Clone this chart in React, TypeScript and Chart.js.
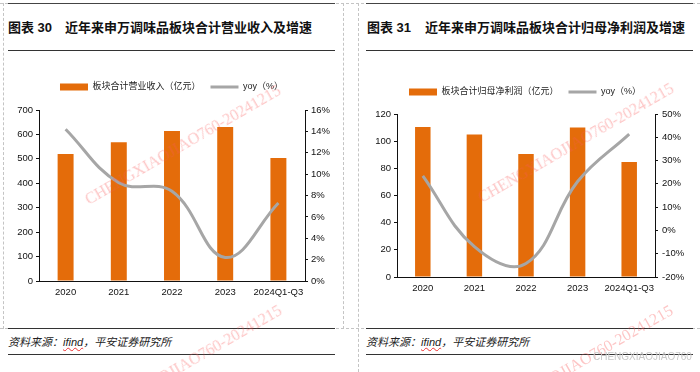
import React, { useEffect, useRef } from 'react';
import { Chart, registerables } from 'chart.js';

Chart.register(...registerables);

const FONT = '"Liberation Sans", "Noto Sans CJK SC", sans-serif';
const ORANGE = '#E46C0A';
const GRAY = '#A6A6A6';

// ---- data ----
const categories = ['2020', '2021', '2022', '2023', '2024Q1-Q3'];

const revenueLabel = '板块合计营业收入（亿元）';
const revenue = [520, 568, 614, 630, 503];
const revenueYoy = [14.2, 9.2, 8.4, 2.2, 7.3];

const profitLabel = '板块合计归母净利润（亿元）';
const profit = [110.4, 105.0, 90.5, 110.0, 84.7];
const profitYoy = [23.4, -7.0, -14.2, 21.0, 41.4];

const yoyLabel = 'yoy（%）';

const revLeftAxis = [0, 700, 100];
const revRightAxis = [0, 16, 2];
const profLeftAxis = [0, 120, 20];
const profRightAxis = [-20, 50, 10];

const title1 = ['图表 30', '近年来申万调味品板块合计营业收入及增速'];
const title2 = ['图表 31', '近年来申万调味品板块合计归母净利润及增速'];
const sourceText = ['资料来源：', 'ifind', '，平安证券研究所'];
const watermark = 'CHENGXIAOJIAO760-20241215';
const watermark2 = 'CHENGXIAOJIAO760';

type PanelProps = {
  barLabel: string;
  bars: number[];
  yoy: number[];
  leftAxis: number[];
  rightAxis: number[];
  left: number;
  width: number;
  padTop: number;
  extra: number;
  leftW: number;
  rightW: number;
  xH: number;
  rightPad: number;
};

function ChartPanel(p: PanelProps) {
  const ref = useRef<HTMLCanvasElement | null>(null);
  useEffect(() => {
    if (!ref.current) return;
    const spacer = {
      id: 'legendSpacer',
      beforeInit(chart: any) {
        const legend = chart.legend;
        if (!legend) return;
        const orig = legend.fit;
        legend.fit = function () {
          orig.call(this);
          this.height += p.extra;
        };
      },
    };
    const tickFont = { size: 9.5, family: FONT };
    const chart = new Chart(ref.current, {
      type: 'bar',
      data: {
        labels: categories,
        datasets: [
          {
            type: 'bar',
            label: p.barLabel,
            data: p.bars,
            backgroundColor: ORANGE,
            borderWidth: 0,
            barPercentage: 0.3,
            categoryPercentage: 1,
            yAxisID: 'y',
            pointStyle: 'rect',
            order: 2,
          } as any,
          {
            type: 'line',
            label: yoyLabel,
            data: p.yoy,
            borderColor: GRAY,
            backgroundColor: GRAY,
            borderWidth: 3,
            pointRadius: 0,
            tension: 0.4,
            yAxisID: 'y1',
            pointStyle: 'line',
            order: 1,
          } as any,
        ],
      },
      options: {
        responsive: false,
        animation: false,
        layout: { padding: { top: p.padTop, left: 0, right: 0, bottom: 0 } },
        plugins: {
          legend: {
            position: 'top',
            labels: {
              usePointStyle: true,
              pointStyleWidth: 28,
              boxHeight: 7,
              padding: 10,
              color: '#222',
              font: { size: 9, family: FONT },
              sort: (a: any, b: any) => a.datasetIndex - b.datasetIndex,
            },
          },
          tooltip: { enabled: false },
        },
        scales: {
          x: {
            grid: { display: true, drawOnChartArea: false, drawTicks: false },
            border: { color: '#111', width: 1 },
            ticks: { padding: 6, color: '#111', font: tickFont, maxRotation: 0, autoSkip: false },
            afterFit: (s: any) => {
              s.height = p.xH;
            },
          },
          y: {
            position: 'left',
            min: p.leftAxis[0],
            max: p.leftAxis[1],
            ticks: { stepSize: p.leftAxis[2], padding: 3, color: '#111', font: tickFont },
            grid: { drawOnChartArea: false, tickLength: 3, tickColor: '#111' },
            border: { color: '#111', width: 1 },
            afterFit: (s: any) => {
              s.width = p.leftW;
            },
          },
          y1: {
            position: 'right',
            min: p.rightAxis[0],
            max: p.rightAxis[1],
            ticks: {
              stepSize: p.rightAxis[2],
              padding: p.rightPad,
              color: '#111',
              font: tickFont,
              callback: (v: any) => v + '%',
            },
            grid: { drawOnChartArea: false, tickLength: 3, tickColor: '#111' },
            border: { color: '#111', width: 1 },
            afterFit: (s: any) => {
              s.width = p.rightW;
            },
          },
        },
      } as any,
      plugins: [spacer as any],
    });
    return () => chart.destroy();
  }, []);
  return (
    <canvas
      ref={ref}
      width={p.width}
      height={265}
      style={{ position: 'absolute', left: p.left, top: 55, width: p.width, height: 265 }}
    />
  );
}

const abs = (s: React.CSSProperties): React.CSSProperties => ({ position: 'absolute', ...s });

function Rule({ x, y, w, h, c }: { x: number; y: number; w: number; h: number; c?: string }) {
  return <div style={abs({ left: x, top: y, width: w, height: h, background: c || '#333' })} />;
}

function Title({ x, parts, gap }: { x: number; parts: string[]; gap: number }) {
  return (
    <div
      style={abs({
        left: x,
        top: 19.5,
        fontFamily: FONT,
        fontWeight: 'bold',
        fontSize: 13,
        lineHeight: '16px',
        color: '#111',
        whiteSpace: 'nowrap',
      })}
    >
      <span>{parts[0]}</span>
      <span style={{ marginLeft: gap }}>{parts[1]}</span>
    </div>
  );
}

function Source({ x }: { x: number }) {
  return (
    <div
      style={abs({
        left: x,
        top: 334.5,
        fontFamily: FONT,
        fontStyle: 'italic',
        fontSize: 11,
        lineHeight: '14px',
        color: '#222',
        whiteSpace: 'nowrap',
      })}
    >
      {sourceText[0]}
      <span style={{ textDecoration: 'underline wavy #e33', textDecorationThickness: '1px' }}>{sourceText[1]}</span>
      {sourceText[2]}
    </div>
  );
}

function Watermark({ cx, cy }: { cx: number; cy: number }) {
  return (
    <div
      style={abs({
        left: cx,
        top: cy,
        transform: 'translate(-50%, -50%) rotate(-30deg)',
        fontFamily: '"Liberation Serif", serif',
        fontSize: 16,
        color: 'rgba(250, 90, 90, 0.35)',
        whiteSpace: 'nowrap',
        pointerEvents: 'none',
      })}
    >
      {watermark}
    </div>
  );
}

const dashed = '1px dashed #c4c4c4';

export default function App() {
  return (
    <div
      style={{
        position: 'fixed',
        left: 0,
        top: 0,
        width: 700,
        height: 372,
        background: '#fff',
        overflow: 'hidden',
      }}
    >
      {/* dashed frame */}
      <div style={abs({ left: 0, top: 3, width: 700, height: 0, borderTop: dashed })} />
      <div style={abs({ left: 0, top: 328, width: 700, height: 0, borderTop: dashed })} />
      <div style={abs({ left: 3, top: 3, width: 0, height: 326, borderLeft: dashed })} />
      <div style={abs({ left: 343, top: 3, width: 0, height: 326, borderLeft: dashed })} />
      <div style={abs({ left: 358, top: 3, width: 0, height: 369, borderLeft: dashed })} />

      {/* left panel */}
      <Rule x={8} y={2.5} w={327} h={1.5} c="#444" />
      <Title x={8} parts={title1} gap={13} />
      <Rule x={8} y={50} w={327} h={1} c="#333" />
      <ChartPanel
        barLabel={revenueLabel}
        bars={revenue}
        yoy={revenueYoy}
        leftAxis={revLeftAxis}
        rightAxis={revRightAxis}
        left={0}
        width={343}
        padTop={17.5}
        extra={8.5}
        leftW={39}
        rightW={38}
        xH={39}
        rightPad={3}
      />
      <Rule x={8} y={328} w={327} h={1} c="#333" />
      <Source x={8} />
      <Rule x={8} y={353.5} w={327} h={1} c="#333" />

      {/* right panel */}
      <Rule x={366} y={2.5} w={327} h={1.5} c="#444" />
      <Title x={367} parts={title2} gap={14} />
      <Rule x={366} y={50} w={327} h={1} c="#333" />
      <ChartPanel
        barLabel={profitLabel}
        bars={profit}
        yoy={profitYoy}
        leftAxis={profLeftAxis}
        rightAxis={profRightAxis}
        left={350}
        width={350}
        padTop={22.5}
        extra={7.5}
        leftW={47}
        rightW={45}
        xH={43}
        rightPad={4}
      />
      <Rule x={366} y={328} w={327} h={1} c="#333" />
      <Source x={366} />
      <Rule x={366} y={353.5} w={327} h={1} c="#333" />

      {/* watermarks */}
      <Watermark cx={183} cy={145} />
      <Watermark cx={184} cy={365} />
      <Watermark cx={576} cy={143} />
      <Watermark cx={575} cy={365} />
      <div
        style={abs({
          left: 593,
          top: 351,
          fontFamily: FONT,
          fontSize: 10,
          color: '#c8c8c8',
          whiteSpace: 'nowrap',
          pointerEvents: 'none',
        })}
      >
        {watermark2}
      </div>
    </div>
  );
}
